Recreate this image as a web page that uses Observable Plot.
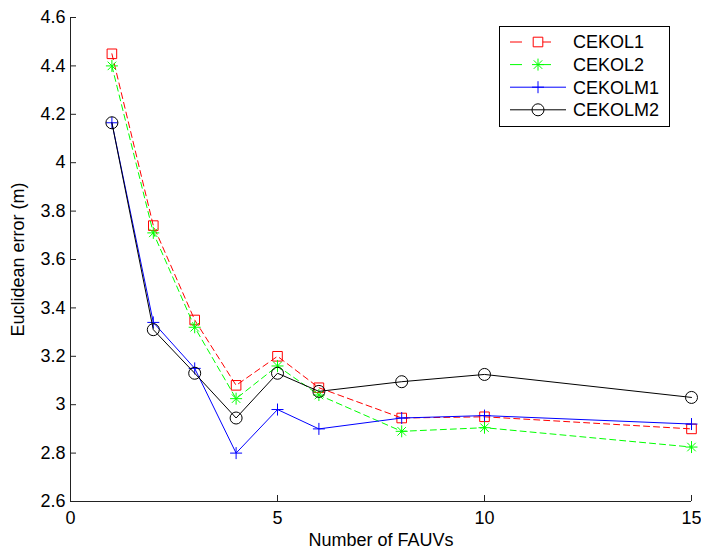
<!DOCTYPE html>
<html>
<head>
<meta charset="utf-8">
<script src="https://cdn.jsdelivr.net/npm/d3@7"></script>
<script src="https://cdn.jsdelivr.net/npm/@observablehq/plot@0.6"></script>
<style>
  html, body { margin: 0; padding: 0; background: #fff; }
  #chart { position: relative; width: 701px; height: 556px; }
  #chart svg { display: block; }
  #legend { position: absolute; left: 0; top: 0; pointer-events: none; }
</style>
</head>
<body>
<div id="chart"></div>
<script>
// ---- data ----
const xValues = [1, 2, 3, 4, 5, 6, 8, 10, 15];
const seriesNames = ["CEKOL1", "CEKOL2", "CEKOLM1", "CEKOLM2"];
const cekol1  = [4.45, 3.74, 3.35, 3.08, 3.20, 3.07, 2.945, 2.95, 2.90];
const cekol2  = [4.40, 3.71, 3.32, 3.025, 3.16, 3.04, 2.89, 2.905, 2.825];
const cekolm1 = [4.165, 3.34, 3.15, 2.80, 2.98, 2.90, 2.945, 2.955, 2.92];
const cekolm2 = [4.165, 3.31, 3.13, 2.945, 3.13, 3.055, 3.095, 3.125, 3.03];
const xTicks = [0, 5, 10, 15];
const xTickLabels = ["0", "5", "10", "15"];
const yTicks = [2.6, 2.8, 3.0, 3.2, 3.4, 3.6, 3.8, 4.0, 4.2, 4.4, 4.6];
const yTickLabels = ["2.6", "2.8", "3", "3.2", "3.4", "3.6", "3.8", "4", "4.2", "4.4", "4.6"];
const xLabel = "Number of FAUVs";
const yLabel = "Euclidean error (m)";

// ---- styles ----
const colors = ["#ff0000", "#00ff00", "#0000ff", "#000000"];
const dashes = ["6,4", "6,4", null, null];

const symSquare = { draw(ctx, size) { const h = Math.sqrt(size / Math.PI); ctx.rect(-h, -h, 2 * h, 2 * h); } };
const symPlus = { draw(ctx, size) { const h = Math.sqrt(size / Math.PI); ctx.moveTo(-h, 0); ctx.lineTo(h, 0); ctx.moveTo(0, -h); ctx.lineTo(0, h); } };
const symAsterisk = { draw(ctx, size) {
  const h = Math.sqrt(size / Math.PI), d = h * Math.SQRT1_2;
  ctx.moveTo(-h, 0); ctx.lineTo(h, 0); ctx.moveTo(0, -h); ctx.lineTo(0, h);
  ctx.moveTo(-d, -d); ctx.lineTo(d, d); ctx.moveTo(-d, d); ctx.lineTo(d, -d);
} };
const symCircle = { draw(ctx, size) { const r = Math.sqrt(size / Math.PI); ctx.moveTo(r, 0); ctx.arc(0, 0, r, 0, 2 * Math.PI); } };
const symbols = [symSquare, symAsterisk, symPlus, symCircle];
const symR = [4.8, 6, 6, 6];

const allValues = [cekol1, cekol2, cekolm1, cekolm2];
const rows = allValues.flatMap((vals, s) => vals.map((v, i) => ({ series: seriesNames[s], s, x: xValues[i], y: v })));

const marks = [];
allValues.forEach((vals, s) => {
  const data = rows.filter(d => d.s === s);
  marks.push(Plot.line(data, { x: "x", y: "y", stroke: colors[s], strokeWidth: 1, strokeDasharray: dashes[s] }));
  marks.push(Plot.dot(data, { x: "x", y: "y", stroke: colors[s], fill: "none", strokeWidth: 1, r: symR[s], symbol: symbols[s] }));
});

const font = "'Liberation Sans', Arial, Helvetica, sans-serif";

const chart = Plot.plot({
  width: 701,
  height: 556,
  marginLeft: 70,
  marginRight: 10,
  marginTop: 17,
  marginBottom: 55,
  style: { fontFamily: font, fontSize: "18px", background: "#fff", color: "#000" },
  x: { domain: [0, 15] },
  y: { domain: [2.6, 4.6] },
  marks: [
    Plot.ruleX([0], { stroke: "#222", strokeWidth: 1 }),
    Plot.ruleY([2.6], { stroke: "#222", strokeWidth: 1 }),
    Plot.axisX(xTicks, { tickSize: -6, tickPadding: 16, stroke: "#222", tickFormat: (d, i) => xTickLabels[i], label: null, fontSize: 18, fill: "#000" }),
    Plot.axisY(yTicks, { tickSize: -6, tickPadding: 11, stroke: "#222", tickFormat: (d, i) => yTickLabels[i], label: null, fontSize: 18, fill: "#000" }),
    ...marks,
    Plot.text([xLabel], { frameAnchor: "bottom", textAnchor: "middle", lineAnchor: "middle", dy: 39, fontSize: 18, fill: "#000" }),
    Plot.text([yLabel], { frameAnchor: "left", textAnchor: "middle", lineAnchor: "middle", dx: -52, rotate: -90, fontSize: 18, fill: "#000" })
  ]
});

const container = document.getElementById("chart");
container.appendChild(chart);

// ---- legend overlay ----
const legend = d3.select(container).append("svg")
  .attr("id", "legend").attr("width", 701).attr("height", 556)
  .style("font-family", font).style("font-size", "18px");
legend.append("rect").attr("x", 499.5).attr("y", 26.5).attr("width", 170).attr("height", 100)
  .attr("fill", "#fff").attr("stroke", "#000").attr("stroke-width", 1);
const rowH = 22.6;
seriesNames.forEach((name, s) => {
  const y = 42 + s * rowH;
  const g = legend.append("g");
  g.append("line").attr("x1", 510).attr("x2", 566).attr("y1", y).attr("y2", y)
    .attr("stroke", colors[s]).attr("stroke-width", 1).attr("stroke-dasharray", dashes[s] ? "12,17" : null);
  const path = d3.path();
  symbols[s].draw(path, Math.PI * symR[s] * symR[s]);
  g.append("path").attr("d", path.toString()).attr("transform", `translate(538,${y})`)
    .attr("fill", dashes[s] ? "#fff" : "none").attr("stroke", colors[s]).attr("stroke-width", 1);
  g.append("text").attr("x", 573).attr("y", y).attr("dy", "0.36em").attr("fill", "#000").text(name);
});
</script>
</body>
</html>
